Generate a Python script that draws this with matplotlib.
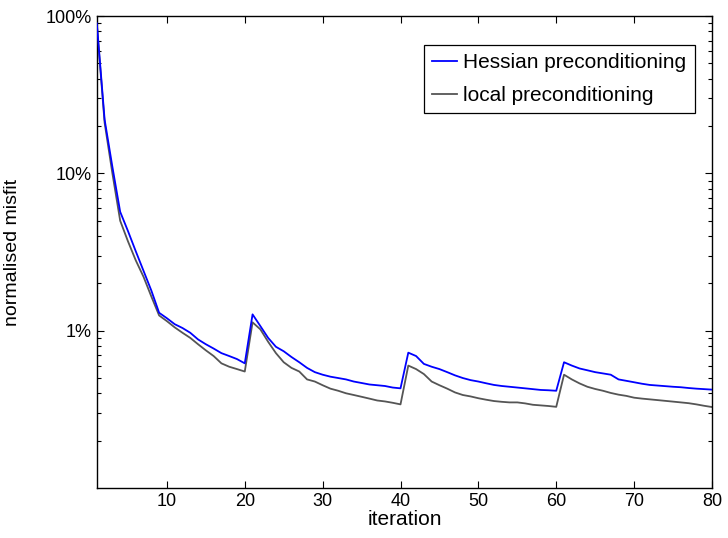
import numpy as np
import matplotlib
matplotlib.use('Agg')
import matplotlib.pyplot as plt
from matplotlib.ticker import FixedLocator, FixedFormatter, LogLocator, NullFormatter

plt.rcParams['font.family'] = ['Liberation Sans', 'DejaVu Sans']

iterations = np.arange(1, 81)

# normalised misfit in percent
hessian = [90, 22, 11, 5.7, 4.3, 3.2, 2.4, 1.8, 1.3, 1.2,
           1.1, 1.04, 0.97, 0.88, 0.82, 0.77, 0.72, 0.69, 0.66, 0.62,
           1.27, 1.07, 0.90, 0.79, 0.74, 0.68, 0.63, 0.58, 0.545, 0.525,
           0.51, 0.50, 0.49, 0.475, 0.465, 0.455, 0.45, 0.445, 0.435, 0.43,
           0.725, 0.69, 0.615, 0.59, 0.57, 0.545, 0.52, 0.50, 0.485, 0.475,
           0.463, 0.452, 0.445, 0.44, 0.435, 0.43, 0.425, 0.42, 0.418, 0.415,
           0.63, 0.60, 0.575, 0.56, 0.545, 0.535, 0.525, 0.49, 0.48, 0.47,
           0.46, 0.452, 0.448, 0.444, 0.44, 0.437, 0.432, 0.428, 0.425, 0.422]

local = [88, 21, 10, 5.0, 3.7, 2.8, 2.2, 1.65, 1.25, 1.15,
         1.05, 0.97, 0.90, 0.82, 0.75, 0.69, 0.62, 0.59, 0.57, 0.55,
         1.13, 1.02, 0.85, 0.72, 0.63, 0.58, 0.55, 0.49, 0.475, 0.45,
         0.428, 0.415, 0.40, 0.39, 0.38, 0.37, 0.36, 0.355, 0.348, 0.34,
         0.60, 0.57, 0.53, 0.475, 0.45, 0.428, 0.405, 0.39, 0.382, 0.372,
         0.364, 0.357, 0.353, 0.35, 0.35, 0.345, 0.338, 0.335, 0.332, 0.328,
         0.525, 0.49, 0.462, 0.44, 0.426, 0.415, 0.402, 0.392, 0.385, 0.375,
         0.37, 0.366, 0.362, 0.358, 0.354, 0.35, 0.346, 0.34, 0.333, 0.327]

ytick_vals = [1, 10, 100]
ytick_labels = ['1%', '10%', '100%']
xtick_vals = [10, 20, 30, 40, 50, 60, 70, 80]

fig = plt.figure(figsize=(7.28, 5.38), dpi=100)
ax = fig.add_axes([0.133, 0.093, 0.845, 0.877])

ax.plot(iterations, hessian, color='#0000ff', lw=1.3, label='Hessian preconditioning', zorder=3)
ax.plot(iterations, local, color='#555555', lw=1.3, label='local preconditioning', zorder=2)

ax.set_yscale('log')
ax.set_ylim(0.1, 100)
ax.set_xlim(1, 80)

ax.yaxis.set_major_locator(FixedLocator(ytick_vals))
ax.yaxis.set_major_formatter(FixedFormatter(ytick_labels))
ax.yaxis.set_minor_locator(LogLocator(base=10, subs=np.arange(2, 10)))
ax.yaxis.set_minor_formatter(NullFormatter())
ax.set_xticks(xtick_vals)

ax.tick_params(which='both', direction='in', top=True, right=True, labelsize=13, width=0.8)
ax.tick_params(which='major', length=5)
ax.tick_params(which='minor', length=3)
for s in ax.spines.values():
    s.set_linewidth(1.0)

ax.set_xlabel('iteration', fontsize=15, labelpad=0)
ax.set_ylabel('normalised misfit', fontsize=14, labelpad=18)

leg = ax.legend(loc='upper right', bbox_to_anchor=(0.972, 0.939), borderaxespad=0,
                fontsize=15, handlelength=1.2, handletextpad=0.3, borderpad=0.4,
                labelspacing=0.65, fancybox=False, framealpha=1)
leg.get_frame().set_edgecolor('black')
leg.get_frame().set_linewidth(0.9)

fig.savefig('out.png', dpi=100)
